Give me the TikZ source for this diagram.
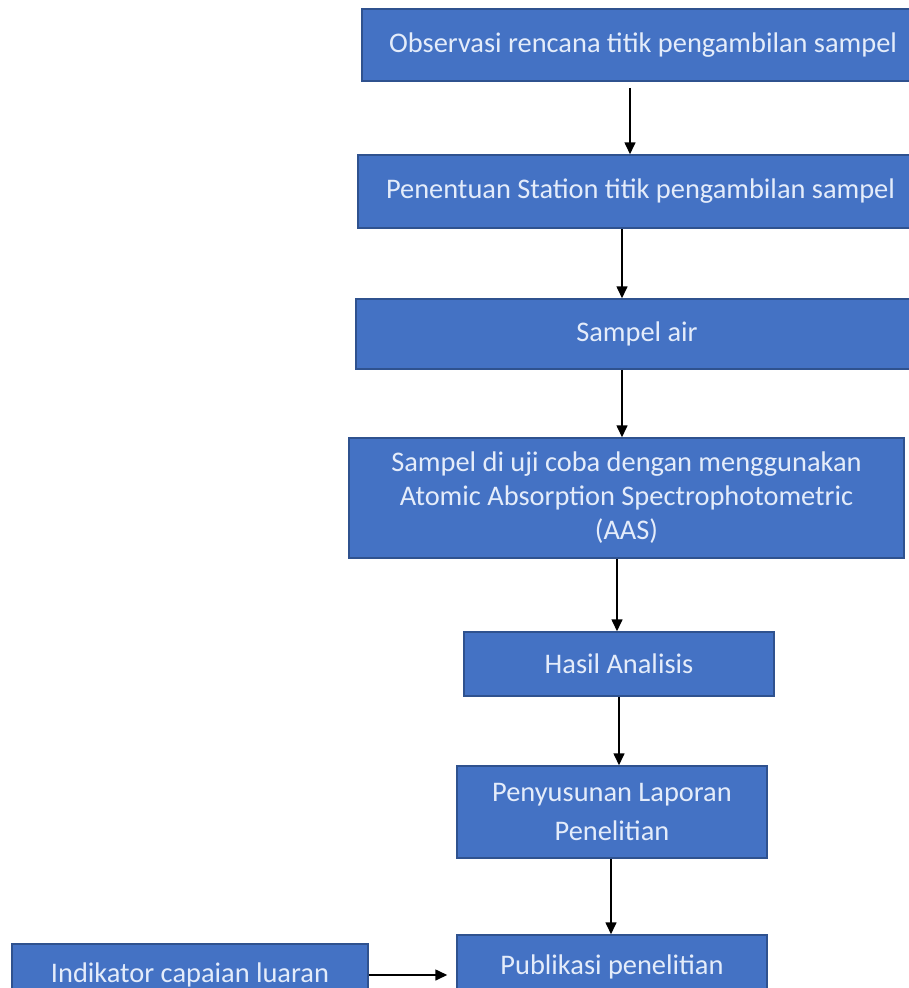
\documentclass[tikz,border=0pt]{standalone}
\usepackage{fontspec}
\setmainfont{Carlito}
\usepackage{tikz}
\usetikzlibrary{arrows.meta,positioning}
\definecolor{kotak}{RGB}{68,114,196}
\definecolor{garis}{RGB}{47,82,143}
\definecolor{tulisan}{RGB}{228,236,250}
\tikzset{font=\fontsize{28.4}{34}\selectfont}
\tikzstyle{blok}=[rectangle,draw=garis,fill=kotak,line width=1.5pt,inner sep=0pt,text=tulisan,align=center]

\begin{document}
\begin{tikzpicture}[x=1pt,y=-1pt]
\useasboundingbox (0,0) rectangle (909,988);
\clip (0,0) rectangle (909,988);
\node[blok,minimum width=562pt,minimum height=72pt] (A) at (643,45) {Observasi rencana titik pengambilan sampel};
\node[blok,minimum width=565pt,minimum height=73pt] (B) at (640.5,191.5) {Penentuan Station titik pengambilan sampel};
\node[blok,minimum width=562pt,minimum height=70pt] (C) at (637,334) {Sampel air};
\node[blok,minimum width=555pt,minimum height=120pt] (D) at (626.5,498) {Sampel di uji coba dengan menggunakan\\Atomic Absorption Spectrophotometric\\(AAS)};
\node[blok,minimum width=310pt,minimum height=64pt] (E) at (619,664) {Hasil Analisis};
\node[blok,minimum width=310pt,minimum height=92pt,font=\fontsize{28.4}{39}\selectfont] (F) at (612,812) {Penyusunan Laporan\\Penelitian};
\node[blok,minimum width=310pt,minimum height=64pt] (G) at (612,967) {Publikasi penelitian};
\node[blok,minimum width=356pt,minimum height=62pt] (H) at (190,975) {Indikator capaian luaran};
\path[->,line width=1.6pt,>={Triangle[length=12pt,width=11pt]}]
([xshift=-13pt]A.south) edge[shorten <=6pt] ([xshift=-10.5pt]B.north)
([xshift=-18.5pt]B.south) edge ([xshift=-15pt]C.north)
([xshift=-15pt]C.south) edge ([xshift=-4.5pt]D.north)
([xshift=-9.5pt]D.south) edge ([xshift=-2pt]E.north)
(E.south) edge ([xshift=7pt]F.north)
([xshift=-1pt]F.south) edge ([xshift=-1pt]G.north)
(H) edge[shorten >=9pt] (H -| G.west);
\end{tikzpicture}
\end{document}
